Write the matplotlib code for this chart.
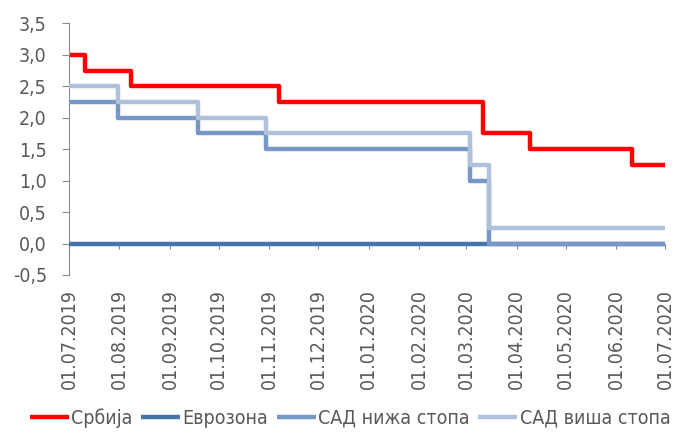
import matplotlib
matplotlib.use("Agg")
import matplotlib.pyplot as plt
import pandas as pd

plt.rcParams['font.family'] = ['DejaVu Sans']
plt.rcParams['font.stretch'] = 'condensed'

start, end = "2019-07-01", "2020-07-01"

serbia_dates = ["2019-07-01", "2019-07-11", "2019-08-08", "2019-11-07", "2020-03-11", "2020-04-09", "2020-06-11", "2020-07-01"]
serbia_vals = [3.0, 2.75, 2.5, 2.25, 1.75, 1.5, 1.25, 1.25]

euro_dates = ["2019-07-01", "2020-07-01"]
euro_vals = [0.0, 0.0]

us_low_dates = ["2019-07-01", "2019-07-31", "2019-09-18", "2019-10-30", "2020-03-03", "2020-03-15", "2020-07-01"]
us_low_vals = [2.25, 2.0, 1.75, 1.5, 1.0, 0.0, 0.0]

us_high_dates = ["2019-07-01", "2019-07-31", "2019-09-18", "2019-10-30", "2020-03-03", "2020-03-15", "2020-07-01"]
us_high_vals = [2.5, 2.25, 2.0, 1.75, 1.25, 0.25, 0.25]

labels = ["Србија", "Еврозона", "САД нижа стопа", "САД виша стопа"]
colors = ["#FF0000", "#4674AA", "#7797C6", "#AFC2DD"]

tick_dates = pd.date_range(start, end, freq="MS")
tick_labels = [d.strftime("%d.%m.%Y") for d in tick_dates]

fig = plt.figure(figsize=(6.75, 4.37), dpi=100)
ax = fig.add_axes([69/675, 1-275/437, (665-69)/675, (275-23.4)/437])

for s in ["top", "right"]:
    ax.spines[s].set_visible(False)
ax.spines["left"].set_color("#8C8C8C")
ax.spines["bottom"].set_position(("data", 0))
ax.spines["bottom"].set_color("#8C8C8C")

series = [(serbia_dates, serbia_vals), (euro_dates, euro_vals),
          (us_low_dates, us_low_vals), (us_high_dates, us_high_vals)]
handles = {}
for i in [1, 2, 3, 0]:
    d, v = series[i]
    h, = ax.plot(pd.to_datetime(d), v, drawstyle="steps-post", color=colors[i],
                 lw=3.2, label=labels[i], solid_joinstyle="round", solid_capstyle="butt", zorder=2+i)
    handles[i] = h

ax.set_xlim(pd.Timestamp(start), pd.Timestamp(end))
ax.set_ylim(-0.5, 3.5)
yt = [-0.5, 0, 0.5, 1.0, 1.5, 2.0, 2.5, 3.0, 3.5]
ax.set_yticks(yt)
ax.set_yticklabels([f"{t:.1f}".replace(".", ",") for t in yt])
ax.set_xticks(tick_dates)
ax.set_xticklabels(tick_labels, rotation=90)

ax.tick_params(axis="y", colors="#8C8C8C", labelcolor="#595959", labelsize=14, length=5, direction="out", pad=11)
ax.tick_params(axis="x", colors="#8C8C8C", labelcolor="#595959", labelsize=14, length=3.6, direction="out", pad=29)

fig.legend([handles[i] for i in range(4)], labels, loc="center", bbox_to_anchor=(350/675, 1-418/437),
           ncol=4, frameon=False, fontsize=14, handlelength=2.0, handletextpad=0.12,
           columnspacing=0.45, labelcolor="#595959")

fig.savefig("out.png", dpi=100)
